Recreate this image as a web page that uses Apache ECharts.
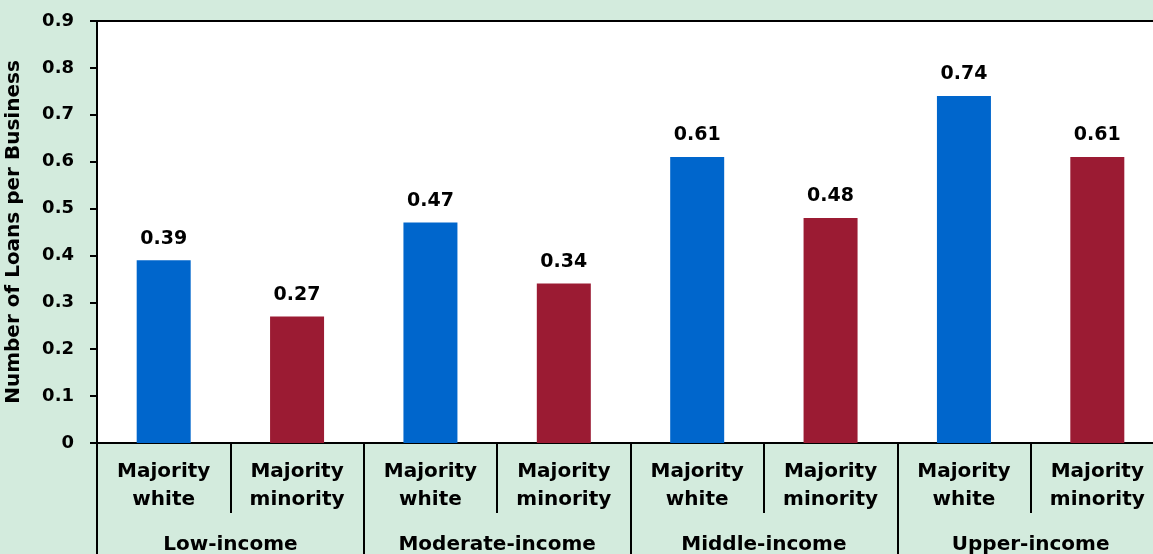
<!DOCTYPE html>
<html>
<head>
<meta charset="utf-8">
<style>
  html, body { margin: 0; padding: 0; background: #d3ebdd; overflow: hidden; }
  #chart { width: 1153px; height: 554px; }
</style>
<script src="https://cdn.jsdelivr.net/npm/echarts@6/dist/echarts.min.js"></script>
</head>
<body>
<div id="chart"></div>
<script>
// Neighbourhood income groups and the racial makeup of each
const incomeGroups = ['Low-income', 'Moderate-income', 'Middle-income', 'Upper-income'];
const subCategories = ['Majority\nwhite', 'Majority\nminority'];
// Loans per business, in order white / minority within each income group
const loansPerBusiness = [0.39, 0.27, 0.47, 0.34, 0.61, 0.48, 0.74, 0.61];
const yTicks = [0, 0.1, 0.2, 0.3, 0.4, 0.5, 0.6, 0.7, 0.8, 0.9];

const barColors = ['#0066cc', '#9b1b33'];
const font = '"DejaVu Sans", Verdana, sans-serif';

const categories = [];
incomeGroups.forEach(() => subCategories.forEach(s => categories.push(s)));

const chart = echarts.init(document.getElementById('chart'), null, { renderer: 'canvas' });
chart.setOption({
  backgroundColor: '#d3ebdd',
  animation: false,
  grid: {
    left: 97, right: -11, top: 21, bottom: 111,
    outerBoundsMode: 'none',
    containLabel: false,
    show: true, backgroundColor: '#ffffff', borderWidth: 0
  },
  xAxis: [
    {
      // racial makeup row, with short dividers
      type: 'category',
      position: 'bottom',
      data: categories,
      axisLine: { show: true, lineStyle: { color: '#000', width: 2 } },
      axisTick: { show: true, length: 70, lineStyle: { color: '#000', width: 2 } },
      axisLabel: {
        color: '#000', fontFamily: font, fontWeight: 'bold', fontSize: 20,
        lineHeight: 28, margin: 15, interval: 0
      }
    },
    {
      // income group row, with full-height dividers
      type: 'category',
      position: 'bottom',
      data: incomeGroups,
      axisLine: { show: false },
      axisTick: { show: true, length: 112, lineStyle: { color: '#000', width: 2 } },
      axisLabel: {
        color: '#000', fontFamily: font, fontWeight: 'bold', fontSize: 20,
        margin: 92, interval: 0
      }
    },
    {
      // frame line along the top of the plot
      type: 'category',
      position: 'top',
      data: categories,
      axisLine: { show: true, lineStyle: { color: '#000', width: 2 } },
      axisTick: { show: false },
      axisLabel: { show: false }
    }
  ],
  yAxis: {
    type: 'value',
    min: yTicks[0],
    max: yTicks[yTicks.length - 1],
    interval: 0.1,
    name: 'Number of Loans per Business',
    nameLocation: 'middle',
    nameGap: 73,
    nameTextStyle: { color: '#000', fontFamily: font, fontWeight: 'bold', fontSize: 20 },
    axisLine: { show: true, lineStyle: { color: '#000', width: 2 } },
    axisTick: { show: true, length: 7, lineStyle: { color: '#000', width: 2 } },
    splitLine: { show: false },
    axisLabel: {
      color: '#000', fontFamily: font, fontWeight: 'bold', fontSize: 18, margin: 23,
      formatter: v => (v === 0 ? '0' : v.toFixed(1))
    }
  },
  series: [{
    type: 'bar',
    xAxisIndex: 0,
    barWidth: 54,
    data: loansPerBusiness.map((v, i) => ({
      value: v,
      itemStyle: { color: barColors[i % 2] }
    })),
    label: {
      show: true, position: 'top', distance: 12,
      color: '#000', fontFamily: font, fontWeight: 'bold', fontSize: 19,
      formatter: p => p.value.toFixed(2)
    }
  }]
});
</script>
</body>
</html>
